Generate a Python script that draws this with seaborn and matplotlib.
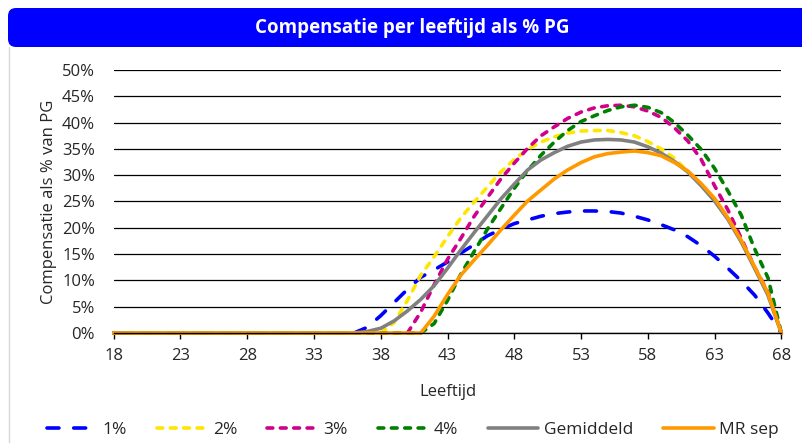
import pandas as pd
import matplotlib
matplotlib.use("Agg")
import matplotlib.pyplot as plt
import seaborn as sns
from matplotlib.patches import FancyBboxPatch
from matplotlib.lines import Line2D
from matplotlib.transforms import IdentityTransform

sns.set_style("white")
plt.rcParams["font.family"] = ["Open Sans", "DejaVu Sans"]

AGES = [18, 36, 37, 38, 39, 40, 41, 42, 43, 44, 45, 46, 47, 48, 49, 50, 51, 52,
        53, 54, 55, 56, 57, 58, 59, 60, 61, 62, 63, 64, 65, 66, 67, 68]

# % of PG per age
PCT_1 = [0, 0, 1.1, 3.3, 5.8, 8.3, 10.6, 12.0, 13.5, 15.2, 16.8, 18.5, 19.7, 20.8,
         21.5, 22.2, 22.7, 23.0, 23.2, 23.2, 23.1, 22.8, 22.2, 21.5, 20.6, 19.6,
         18.3, 16.6, 14.6, 12.3, 9.9, 7.2, 3.8, 0]
PCT_2 = [0, 0, 0, 0, 2.0, 6.2, 11.0, 14.5, 18.3, 21.9, 24.9, 27.8, 30.6, 33.0,
         34.9, 36.3, 37.3, 38.0, 38.4, 38.5, 38.5, 38.1, 37.5, 36.4, 35.0, 33.2,
         30.7, 28.1, 25.3, 21.8, 17.5, 12.5, 7.3, 0]
PCT_3 = [0, 0, 0, 0, 0, 0, 4.0, 9.2, 14.0, 18.0, 22.2, 25.8, 29.3, 32.3, 35.1,
         37.5, 39.2, 40.8, 42.0, 42.8, 43.2, 43.3, 43.0, 42.2, 41.0, 39.0, 36.5,
         33.0, 28.0, 23.4, 18.0, 12.5, 7.8, 0]
PCT_4 = [0, 0, 0, 0, 0, 0, 0, 1.8, 6.2, 11.2, 15.5, 19.8, 23.7, 27.5, 30.9, 33.8,
         36.3, 38.5, 40.2, 41.3, 42.3, 43.0, 43.3, 42.9, 41.9, 40.0, 37.6, 34.9,
         31.3, 27.0, 22.4, 16.0, 10.5, 0]
GEMIDDELD = [0, 0, 0.3, 0.9, 2.3, 4.2, 6.4, 9.0, 12.3, 15.8, 19.1, 22.3, 25.5,
             28.3, 31.0, 32.9, 34.3, 35.5, 36.3, 36.7, 36.8, 36.7, 36.3, 35.4,
             34.2, 32.6, 30.6, 28.0, 25.1, 21.6, 17.3, 12.3, 7.2, 0]
MR_SEP = [0, 0, 0, 0, 0, 0, 0, 3.2, 7.3, 11.0, 13.9, 16.7, 19.6, 22.4, 25.1,
          27.2, 29.3, 31.0, 32.4, 33.5, 34.1, 34.4, 34.6, 34.3, 33.7, 32.4, 30.8,
          28.4, 25.6, 21.9, 17.6, 12.6, 7.6, 0]

SERIES = ["1%", "2%", "3%", "4%", "Gemiddeld", "MR sep"]
VALUES = [PCT_1, PCT_2, PCT_3, PCT_4, GEMIDDELD, MR_SEP]
COLORS = ["#0000FF", "#FFE600", "#D0008A", "#008000", "#808080", "#FF9900"]
DASHES = [(3.3, 4.1), (1.6, 2.1), (1.6, 2.1), (1.6, 2.1), "", ""]

df = pd.concat([pd.DataFrame({"age": AGES, "value": v, "series": s})
                for s, v in zip(SERIES, VALUES)], ignore_index=True)

fig = plt.figure(figsize=(8.03, 4.43), dpi=100)

# title bar + thin frame line on the left
bar = FancyBboxPatch((8, 443 - 47), 830, 39, boxstyle="round,pad=0,rounding_size=8",
                     facecolor="#0000FF", edgecolor="none", transform=IdentityTransform())
fig.patches.append(bar)
fig.lines.append(Line2D([8.5, 8.5], [0, 396], color="#d9d9d9", linewidth=1,
                        transform=IdentityTransform()))
fig.text(0.513, 1 - 28 / 443, "Compensatie per leeftijd als % PG", color="white",
         fontsize=13.5, fontweight="bold", ha="center", va="center")

ax = fig.add_axes([0.1416, 0.2483, 0.8314, 0.5937])
sns.lineplot(data=df, x="age", y="value", hue="series", style="series",
             hue_order=SERIES, style_order=SERIES,
             palette=dict(zip(SERIES, COLORS)), dashes=dict(zip(SERIES, DASHES)),
             linewidth=2.6, dash_capstyle="round", clip_on=False,
             legend=False, ax=ax)

ax.set_xlim(18, 68)
ax.set_ylim(0, 50)
ax.set_xticks(range(18, 69, 5))
ax.set_yticks(range(0, 51, 5))
ax.set_yticklabels([f"{t}%" for t in range(0, 51, 5)])
ax.grid(axis="y", color="black", linewidth=0.9)
ax.set_axisbelow(True)
for side in ["left", "right", "top"]:
    ax.spines[side].set_visible(False)
ax.spines["bottom"].set_color("black")
ax.spines["bottom"].set_linewidth(1.0)
ax.tick_params(axis="x", bottom=True, direction="out", length=4, width=1,
               color="black", pad=7, labelsize=12, labelcolor="#262626")
ax.tick_params(axis="y", left=False, pad=10, labelsize=12, labelcolor="#262626")

ax.set_xlabel("Leeftijd", fontsize=12, color="#262626")
ax.set_ylabel("Compensatie als % van PG", fontsize=12, color="#262626")
ax.xaxis.set_label_coords(0.5, -0.195)
ax.yaxis.set_label_coords(-0.085, 0.5)

ax.legend(ax.lines[:6], SERIES, loc="center", bbox_to_anchor=(0.514, 1 - 430 / 443),
          bbox_transform=fig.transFigure, ncol=6, frameon=False, fontsize=12.5,
          handlelength=2.9, handletextpad=0.3, columnspacing=1.75)

fig.savefig("out.png", dpi=100)
